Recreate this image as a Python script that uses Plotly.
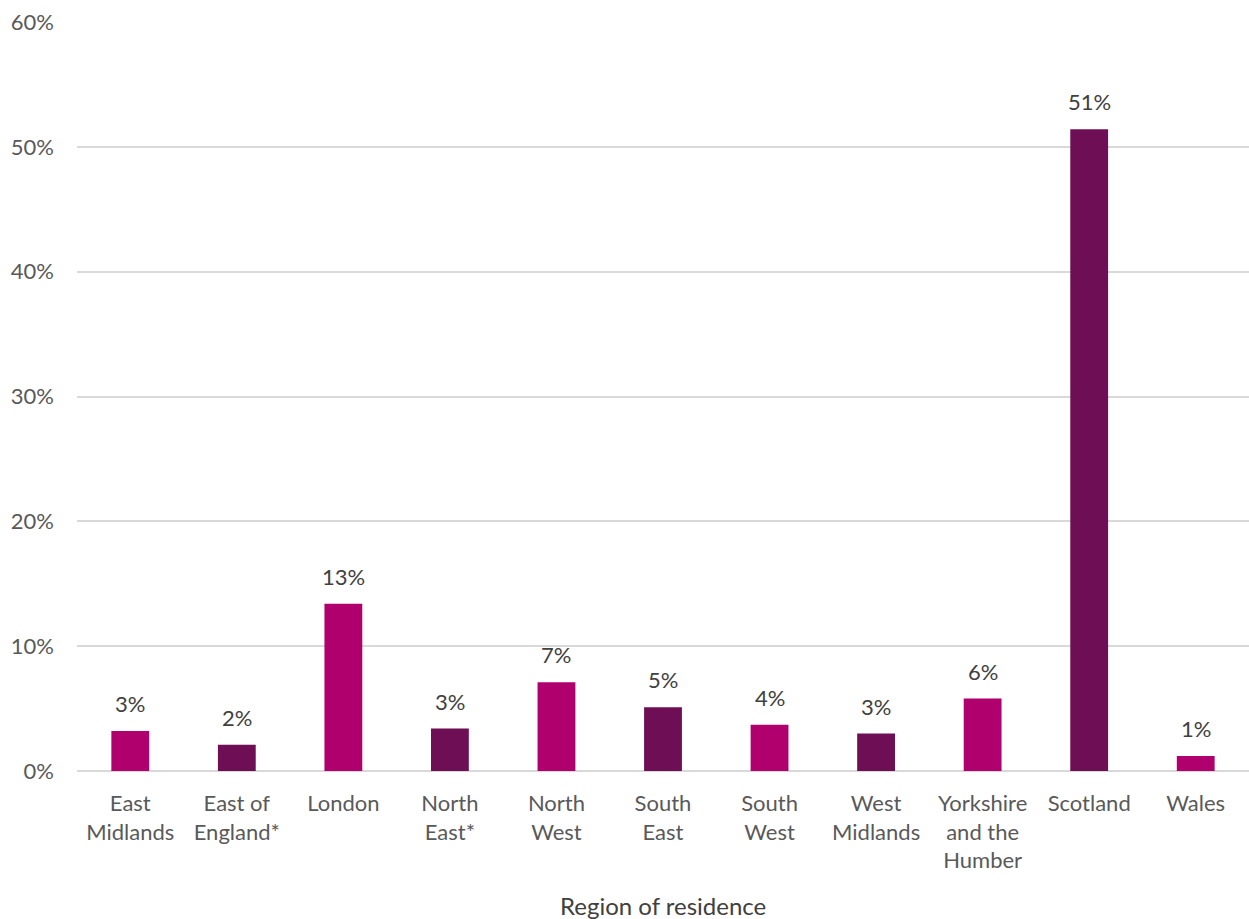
import plotly.graph_objects as go

regions = ["East<br>Midlands", "East of<br>England*", "London", "North<br>East*", "North<br>West",
           "South<br>East", "South<br>West", "West<br>Midlands", "Yorkshire<br>and the<br>Humber",
           "Scotland", "Wales"]
values = [3.2, 2.1, 13.4, 3.4, 7.1, 5.1, 3.7, 3.0, 5.8, 51.4, 1.2]
colors = ["#B0006E", "#6E0E55", "#B0006E", "#6E0E55", "#B0006E", "#6E0E55",
          "#B0006E", "#6E0E55", "#B0006E", "#6E0E55", "#B0006E"]
y_ticks = [0, 10, 20, 30, 40, 50, 60]

FONT = "Lato, 'Source Sans Pro', 'Noto Sans', sans-serif"

fig = go.Figure()
fig.add_trace(go.Bar(x=regions, y=values, marker=dict(color=colors, line=dict(width=0)),
                     hoverinfo="x+y"))

for r, v in zip(regions, values):
    fig.add_annotation(x=r, y=v, text=f"{v:.0f}%", showarrow=False,
                       xref="x", yref="y", yanchor="bottom", yshift=12,
                       font=dict(family=FONT, size=22, color="#404040"))

fig.add_annotation(text="Region of residence", x=0.5, y=0, xref="paper", yref="paper",
                   yanchor="middle", yshift=-134, showarrow=False,
                   font=dict(family=FONT, size=24, color="#404040"))

fig.update_layout(
    width=1249, height=919,
    margin=dict(l=77, r=0, t=22, b=148),
    plot_bgcolor="white", paper_bgcolor="white",
    bargap=0.645,
    showlegend=False,
    font=dict(family=FONT, size=22, color="#595959"),
    xaxis=dict(showgrid=False, showline=False, ticks="", automargin=False,
               ticklabelstandoff=17,
               tickfont=dict(family=FONT, size=22, color="#595959")),
    yaxis=dict(range=[0, 60], tickvals=y_ticks, ticktext=[f"{t}%" for t in y_ticks],
               showgrid=True, gridcolor="#D9D9D9", gridwidth=2,
               zeroline=True, zerolinecolor="#D9D9D9", zerolinewidth=2,
               showline=False, ticks="", ticklabelstandoff=22, automargin=False,
               tickfont=dict(family=FONT, size=22, color="#595959")),
)

fig.write_html("out.html", config={"displayModeBar": False},
               post_script="document.body.style.margin='0';document.body.style.overflow='hidden';")
